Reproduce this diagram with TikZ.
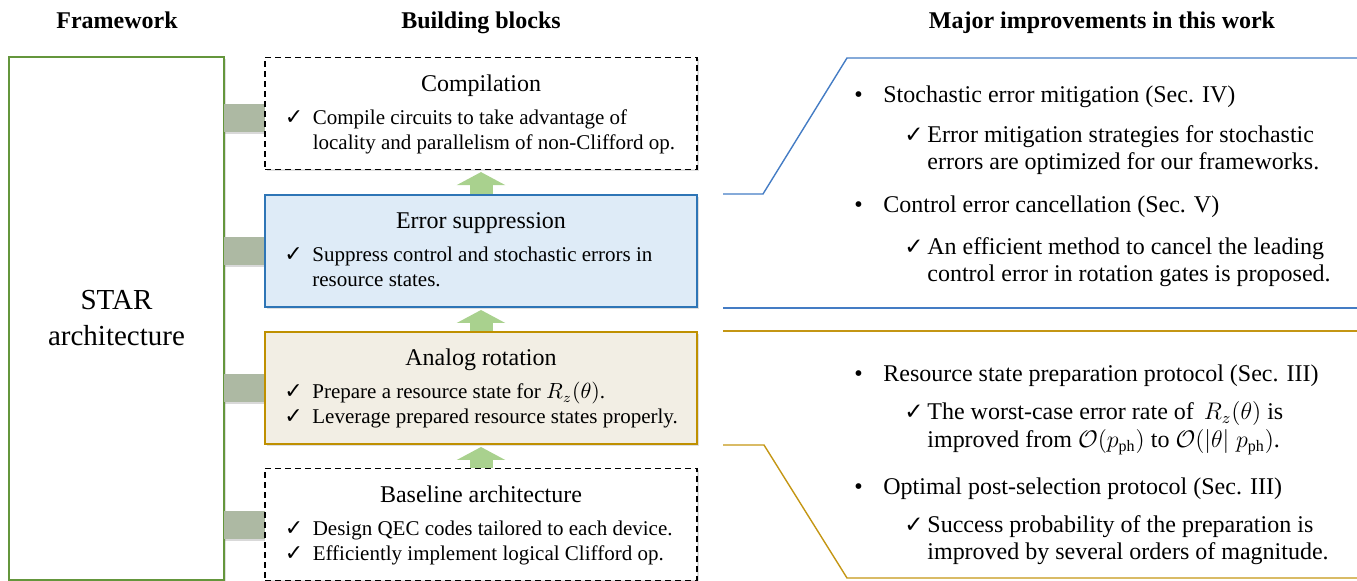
\documentclass[tikz,border=0pt]{standalone}
\usepackage{amssymb}
\usepackage{fontspec}
\setmainfont{Liberation Serif}
\newfontfamily\tickfont{DejaVu Sans}
\newcommand{\tick}{{\tickfont ✓}}
\usetikzlibrary{arrows.meta,shadows,positioning}

\definecolor{framecol}{RGB}{100,150,60}
\definecolor{barcol}{RGB}{173,185,163}
\definecolor{arrowcol}{RGB}{169,209,142}
\definecolor{suppfill}{RGB}{222,235,247}
\definecolor{suppline}{RGB}{46,117,182}
\definecolor{analogfill}{RGB}{242,238,228}
\definecolor{analogline}{RGB}{191,144,0}
\definecolor{bluecol}{RGB}{68,124,196}
\definecolor{goldcol}{RGB}{196,150,20}

\begin{document}
\begin{tikzpicture}[x=0.5pt,y=-0.5pt,
  head/.style={font=\fontsize{12}{14}\selectfont\bfseries,anchor=base},
  block/.style={minimum width=216pt,minimum height=56pt,inner sep=0pt,
    drop shadow={shadow xshift=1pt,shadow yshift=-1pt,opacity=0.25}},
  title/.style={font=\fontsize{12}{14}\selectfont,anchor=base,inner sep=0pt},
  item/.style={font=\fontsize{10.5}{12.5}\selectfont,anchor=base west,inner sep=0pt},
  itemtick/.style={font=\fontsize{11}{12.5}\selectfont,anchor=base west,inner sep=0pt},
  bar/.style={fill=barcol,minimum width=20.5pt,minimum height=14pt,inner sep=0pt,anchor=west,
    drop shadow={shadow xshift=0.5pt,shadow yshift=-1pt,opacity=0.3}},
  uparrow/.style={draw=arrowcol,line width=11.5pt,-{Triangle[width=24pt,length=6.5pt]},shorten >=1pt},
  note/.style={font=\fontsize{12}{13.5}\selectfont,anchor=base west,inner sep=0pt},
  notetick/.style={font=\fontsize{11.5}{13.5}\selectfont,anchor=base west,inner sep=0pt},
  bluecall/.style={draw=bluecol,line width=0.7pt},
  goldcall/.style={draw=goldcol,line width=0.7pt}]
  \useasboundingbox (0,0) rectangle (1357,581);

  %% Column heads
  \node[head] (hframe) at (117,29) {Framework};
  \node[head] (hblocks) at (481,29) {Building blocks};
  \node[head] (hwork) at (1102,29) {Major improvements in this work};

  %% Framework
  \node[draw=framecol,line width=1pt,fill=white,minimum width=107.5pt,minimum height=261.5pt,
    drop shadow={shadow xshift=1pt,shadow yshift=-1pt,opacity=0.25},
    align=center,font=\fontsize{14.5}{18}\selectfont] (frame) at (116.5,318.5) {STAR\\architecture};

  %% Links to the blocks
  \node[bar] (barc) at (224,118) {};
  \node[bar] (bars) at (224,251) {};
  \node[bar] (bara) at (224,388) {};
  \node[bar] (barb) at (224,525) {};

  %% Building blocks
  \node[block,draw=black,fill=white,line width=0.6pt,dash pattern=on 3pt off 2pt] (comp) at (481,113.5) {};
  \node[block,draw=suppline,fill=suppfill,line width=1pt] (supp) at (481,251) {};
  \node[block,draw=analogline,fill=analogfill,line width=1pt] (analog) at (481,388) {};
  \node[block,draw=black,fill=white,line width=0.6pt,dash pattern=on 3pt off 2pt] (base) at (481,524.5) {};

  \node[title] (tcomp) at ([yshift=-17.5pt]comp.north) {Compilation};
  \node[itemtick] (kcomp) at ([xshift=10pt,yshift=-34pt]comp.north west) {\tick};
  \node[item] (icomp) at ([xshift=24pt,yshift=-34pt]comp.north west) {Compile circuits to take advantage of};
  \node[item] (icompb) at ([yshift=-12.5pt]icomp.base west) {locality and parallelism of non-Clifford op.};

  \node[title] (tsupp) at ([yshift=-17.5pt]supp.north) {Error suppression};
  \node[itemtick] (ksupp) at ([xshift=10pt,yshift=-34pt]supp.north west) {\tick};
  \node[item] (isupp) at ([xshift=24pt,yshift=-34pt]supp.north west) {Suppress control and stochastic errors in};
  \node[item] (isuppb) at ([yshift=-12.5pt]isupp.base west) {resource states.};

  \node[title] (tanalog) at ([yshift=-17.5pt]analog.north) {Analog rotation};
  \node[itemtick] (kanalog) at ([xshift=10pt,yshift=-34pt]analog.north west) {\tick};
  \node[item] (ianalog) at ([xshift=24pt,yshift=-34pt]analog.north west) {Prepare a resource state for $R_z(\theta)$.};
  \node[itemtick] (kanalogb) at ([yshift=-12.5pt]kanalog.base west) {\tick};
  \node[item] (ianalogb) at ([yshift=-12.5pt]ianalog.base west) {Leverage prepared resource states properly.};

  \node[title] (tbase) at ([yshift=-17.5pt]base.north) {Baseline architecture};
  \node[itemtick] (kbase) at ([xshift=10pt,yshift=-34pt]base.north west) {\tick};
  \node[item] (ibase) at ([xshift=24pt,yshift=-34pt]base.north west) {Design QEC codes tailored to each device.};
  \node[itemtick] (kbaseb) at ([yshift=-12.5pt]kbase.base west) {\tick};
  \node[item] (ibaseb) at ([yshift=-12.5pt]ibase.base west) {Efficiently implement logical Clifford op.};

  %% Stacking arrows
  \draw[uparrow] (supp.north) -- (comp.south);
  \draw[uparrow] (analog.north) -- (supp.south);
  \draw[uparrow] (base.north) -- (analog.south);

  %% Callouts
  \draw[bluecall] ([xshift=12.5pt]supp.north east) -- ++(40,0) -- (847,58) -- (1357,58);
  \draw[bluecall] ([xshift=12.5pt]supp.south east) -- ++(635,0);
  \draw[goldcall] ([xshift=12.5pt]analog.north east) -- ++(635,0);
  \draw[goldcall] ([xshift=12.5pt]analog.south east) -- ++(41,0) -- (847,578) -- (1357,578);

  %% Improvements
  \node[note] (pa) at (854,103) {\textbullet};
  \node[note] (na) at (883,103) {Stochastic error mitigation (Sec. IV)};
  \node[notetick] (ka) at (904,143) {\tick};
  \node[note] (ma) at (927,143) {Error mitigation strategies for stochastic};
  \node[note] (mab) at ([yshift=-13.5pt]ma.base west) {errors are optimized for our frameworks.};

  \node[note] (pb) at (854,213) {\textbullet};
  \node[note] (nb) at (883,213) {Control error cancellation (Sec. V)};
  \node[notetick] (kb) at (904,255) {\tick};
  \node[note] (mb) at (927,255) {An efficient method to cancel the leading};
  \node[note] (mbb) at ([yshift=-13.5pt]mb.base west) {control error in rotation gates is proposed.};

  \node[note] (pc) at (854,382) {\textbullet};
  \node[note] (nc) at (883,382) {Resource state preparation protocol (Sec. III)};
  \node[notetick] (kc) at (904,420) {\tick};
  \node[note] (mc) at (927,420) {The worst-case error rate of \,$R_z(\theta)$ is};
  \node[note] (mcb) at ([yshift=-14pt]mc.base west) {improved from $\mathcal{O}(p_{\mathrm{ph}})$ to $\mathcal{O}(|\theta|\;p_{\mathrm{ph}})$.};

  \node[note] (pd) at (854,495) {\textbullet};
  \node[note] (nd) at (883,495) {Optimal post-selection protocol (Sec. III)};
  \node[notetick] (kd) at (904,533) {\tick};
  \node[note] (md) at (927,533) {Success probability of the preparation is};
  \node[note] (mdb) at ([yshift=-13.5pt]md.base west) {improved by several orders of magnitude.};
\end{tikzpicture}
\end{document}
